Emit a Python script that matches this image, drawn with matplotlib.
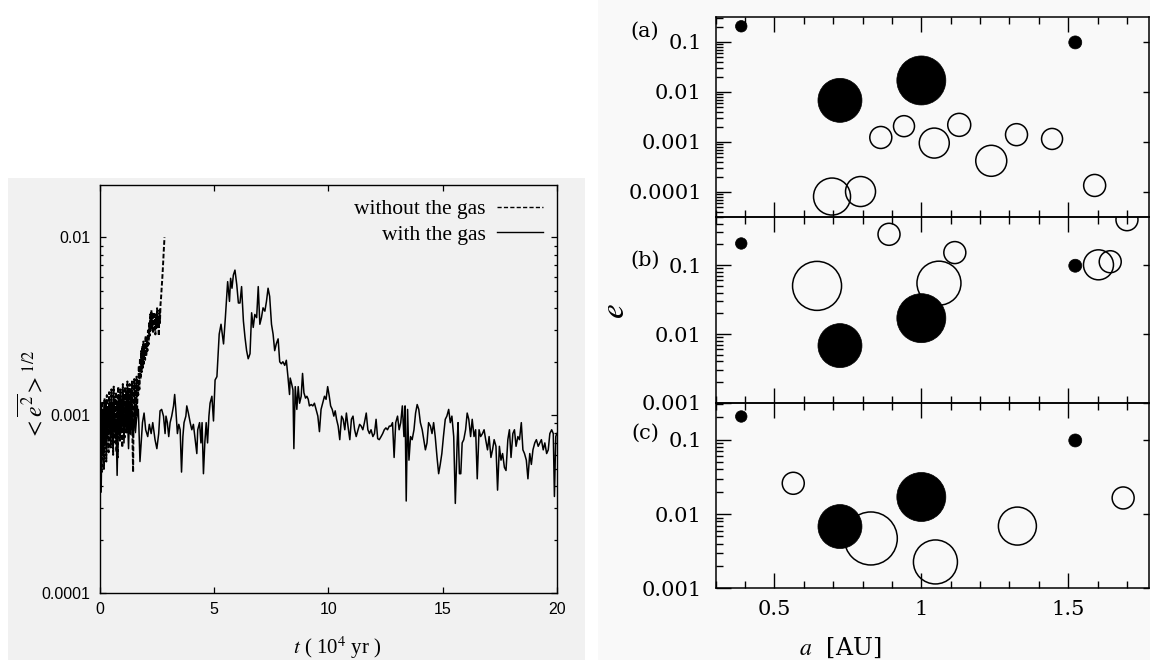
import numpy as np
import matplotlib
matplotlib.use("Agg")
import matplotlib.pyplot as plt
from matplotlib.patches import Rectangle
from matplotlib.lines import Line2D
from matplotlib.ticker import FixedLocator, FixedFormatter, LogLocator, NullFormatter, MultipleLocator
from matplotlib.font_manager import FontProperties

plt.rcParams['mathtext.fontset'] = 'stix'

# ---------------- Left panel data: rms eccentricity vs time ----------------
# without the gas (t in 1e4 yr, e in units of 1e-3)
t_nogas = [0.000, 0.025, 0.050, 0.075, 0.100, 0.125, 0.150, 0.175, 0.200, 0.225,
           0.250, 0.275, 0.300, 0.325, 0.350, 0.375, 0.400, 0.425, 0.450, 0.475,
           0.500, 0.525, 0.550, 0.575, 0.600, 0.625, 0.650, 0.675, 0.700, 0.725,
           0.750, 0.775, 0.800, 0.825, 0.850, 0.875, 0.900, 0.925, 0.950, 0.975,
           1.000, 1.025, 1.050, 1.075, 1.100, 1.125, 1.150, 1.175, 1.200, 1.225,
           1.250, 1.275, 1.300, 1.325, 1.350, 1.375, 1.400, 1.425, 1.450, 1.475,
           1.500, 1.525, 1.550, 1.575, 1.600, 1.625, 1.650, 1.675, 1.700, 1.725,
           1.750, 1.775, 1.800, 1.825, 1.850, 1.875, 1.900, 1.925, 1.950, 1.975,
           2.000, 2.025, 2.050, 2.075, 2.100, 2.125, 2.150, 2.175, 2.200, 2.225,
           2.250, 2.275, 2.300, 2.325, 2.350, 2.375, 2.400, 2.425, 2.450, 2.475,
           2.500, 2.525, 2.550, 2.575, 2.600, 2.625, 2.650, 2.675, 2.700, 2.725,
           2.750, 2.775, 2.800, 2.825]
e_nogas = [0.95, 0.55, 1.10, 0.48, 1.20, 0.60, 1.05, 0.50, 1.25, 0.70,
           1.15, 0.55, 1.30, 0.75, 1.10, 0.62, 1.35, 0.80, 1.20, 0.66,
           1.40, 0.78, 1.15, 0.60, 1.45, 0.82, 1.25, 0.70, 1.35, 0.62,
           1.20, 0.58, 1.45, 0.85, 1.30, 0.72, 1.40, 0.80, 1.20, 0.66,
           1.50, 0.90, 1.30, 0.75, 1.45, 0.85, 1.35, 0.80, 1.55, 0.92,
           1.40, 0.78, 1.50, 0.95, 1.35, 0.85, 1.55, 0.70, 0.48, 1.20,
           1.60, 0.95, 1.45, 0.90, 1.65, 1.05, 1.50, 1.30, 1.90, 1.40,
           2.10, 1.60, 2.30, 1.75, 2.45, 1.85, 2.60, 1.95, 2.50, 2.05,
           2.80, 2.15, 2.70, 2.30, 3.00, 2.50, 3.30, 2.80, 3.70, 3.00,
           3.90, 3.10, 3.60, 2.90, 3.80, 3.05, 3.50, 2.85, 3.70, 3.10,
           4.00, 3.20, 3.60, 2.80, 3.90, 3.30, 4.20, 4.60, 5.20, 5.80,
           6.60, 7.60, 8.80, 10.0]

# with the gas
t_gas = [0.00, 0.05, 0.10, 0.15, 0.20, 0.25, 0.30, 0.35, 0.40, 0.45, 0.50, 0.55,
         0.60, 0.65, 0.70, 0.75, 0.80, 0.85, 0.90, 0.95, 1.00, 1.05, 1.10, 1.15,
         1.20, 1.25, 1.30, 1.35, 1.40, 1.45, 1.50, 1.55, 1.60, 1.65,
         1.68, 1.75, 1.86, 1.93, 2.00, 2.09, 2.16, 2.24, 2.31, 2.41, 2.49, 2.57,
         2.63, 2.70, 2.78, 2.85, 2.89, 2.95, 3.01, 3.07, 3.14, 3.22, 3.27, 3.32,
         3.39, 3.45, 3.51, 3.57, 3.63, 3.68, 3.76, 3.80, 3.87, 3.95, 4.02, 4.09,
         4.17, 4.24, 4.28, 4.36, 4.42, 4.47, 4.53, 4.59, 4.65, 4.71, 4.77, 4.82,
         4.90, 4.97,
         5.04, 5.12, 5.22, 5.30, 5.41, 5.49, 5.59, 5.67, 5.72, 5.78, 5.84, 5.91,
         5.99, 6.06, 6.13, 6.20, 6.28, 6.35, 6.42, 6.49, 6.57, 6.64, 6.71, 6.78,
         6.86, 6.93, 7.00, 7.07, 7.14, 7.22, 7.29, 7.36, 7.43, 7.51, 7.58, 7.65,
         7.72, 7.80, 7.87, 7.94, 8.01, 8.09, 8.16, 8.23, 8.30, 8.33, 8.39, 8.45,
         8.49, 8.55, 8.62, 8.68, 8.74, 8.81, 8.87, 8.93, 9.00, 9.06, 9.12, 9.17,
         9.25, 9.32, 9.39, 9.46, 9.54, 9.61, 9.68, 9.75, 9.83, 9.90, 9.97, 10.04,
         10.10, 10.17, 10.24, 10.30, 10.36, 10.43, 10.50, 10.58, 10.65, 10.72,
         10.79, 10.86, 10.94, 11.01, 11.08, 11.15, 11.22, 11.30, 11.37, 11.44,
         11.51, 11.58, 11.66, 11.73, 11.80, 11.87, 11.95, 12.02, 12.09, 12.16,
         12.23, 12.31, 12.38, 12.45, 12.52, 12.59, 12.67, 12.74, 12.81, 12.88,
         12.95, 13.03, 13.10, 13.17, 13.24, 13.31, 13.36, 13.41, 13.47, 13.53,
         13.60, 13.67, 13.75, 13.82, 13.89, 13.96, 14.03, 14.11, 14.18, 14.25,
         14.32, 14.39, 14.47, 14.54, 14.61, 14.68, 14.76, 14.83,
         14.90, 14.97, 15.04, 15.12, 15.19, 15.27, 15.34, 15.41, 15.49, 15.56,
         15.64, 15.68, 15.74, 15.80, 15.86, 15.93, 16.01, 16.08, 16.15, 16.23,
         16.30, 16.38, 16.45, 16.52, 16.60, 16.67, 16.75, 16.82, 16.89, 16.97,
         17.04, 17.12, 17.19, 17.26, 17.34, 17.41, 17.49, 17.56, 17.63, 17.71,
         17.78, 17.86, 17.93, 18.00, 18.08, 18.15, 18.22, 18.30, 18.37, 18.45,
         18.52, 18.59, 18.67, 18.74, 18.82, 18.89, 18.96, 19.04, 19.11, 19.19,
         19.26, 19.33, 19.41, 19.48, 19.56, 19.63, 19.70, 19.78, 19.85, 19.90,
         19.96, 20.00]
e_gas = [1.00, 0.37, 1.05, 0.62, 1.15, 0.70, 1.10, 0.80, 1.20, 0.75, 1.05, 0.68,
         1.12, 0.80, 0.95, 0.46, 1.00, 0.78, 1.10, 0.85, 1.05, 0.70, 1.15, 0.82,
         1.00, 0.65, 1.10, 0.78, 0.98, 0.75, 1.05, 0.80, 0.95, 1.05,
         1.08, 0.55, 0.91, 1.03, 0.83, 0.76, 0.89, 0.79, 0.91, 0.73, 0.65, 0.79,
         1.06, 1.08, 0.99, 0.79, 0.99, 0.91, 0.76, 0.91, 0.99, 1.13, 1.31, 1.08,
         0.79, 0.89, 0.83, 0.48, 0.76, 0.91, 0.99, 1.13, 1.03, 0.91, 0.83, 0.89,
         0.73, 0.61, 0.83, 0.91, 0.70, 0.91, 0.47, 0.70, 0.91, 0.70, 0.99, 1.17,
         1.28, 0.93,
         1.58, 1.65, 2.86, 3.25, 2.52, 3.54, 5.64, 4.37, 5.89, 5.18, 6.14, 6.55,
         5.41, 4.28, 4.28, 5.29, 3.39, 2.74, 2.31, 2.08, 2.22, 3.77, 3.12, 3.69,
         3.54, 5.29, 3.25, 3.54, 4.02, 3.85, 4.37, 5.18, 4.66, 3.25, 2.86, 2.31,
         2.52, 2.69, 2.00, 1.95, 2.00, 1.91, 2.04, 1.65, 1.31, 1.62, 1.51, 1.39,
         0.65, 1.45, 1.08, 1.45, 1.17, 1.28, 1.72, 1.34, 1.25, 1.28, 1.23, 1.13,
         1.15, 1.13, 1.17, 1.08, 0.99, 0.81, 1.08, 1.17, 1.28, 1.23, 1.45, 1.28,
         1.13, 1.08, 0.99, 1.06, 0.95, 0.87, 0.73, 0.99, 0.95, 0.83,
         1.03, 0.87, 0.73, 0.95, 0.99, 0.83, 0.76, 0.83, 0.89, 0.87,
         0.83, 0.91, 1.03, 0.83, 0.79, 0.83, 0.76, 0.79, 0.95, 0.74,
         0.73, 0.76, 0.79, 0.83, 0.85, 0.83, 0.87, 0.87, 0.91, 0.58,
         0.91, 0.99, 0.83, 0.91, 1.13, 0.76, 1.13, 0.33, 1.08, 0.56,
         0.76, 0.73, 0.83, 1.03, 1.15, 1.08, 0.91, 0.83, 0.73, 0.64,
         0.70, 0.91, 0.87, 0.79, 0.91, 0.76, 0.58, 0.47,
         0.53, 0.61, 0.76, 0.95, 0.99, 1.08, 0.91, 0.99, 0.76, 0.32,
         0.70, 0.91, 0.47, 0.47, 0.70, 0.73, 0.83, 1.03, 0.95, 0.76,
         0.95, 0.76, 0.83, 0.44, 0.83, 0.76, 0.79, 0.83, 0.73, 0.64,
         0.76, 0.58, 0.64, 0.73, 0.67, 0.38, 0.67, 0.56, 0.61, 0.51,
         0.49, 0.73, 0.83, 0.58, 0.79, 0.83, 0.67, 0.76, 0.73, 0.91,
         0.64, 0.61, 0.56, 0.44, 0.61, 0.53, 0.64, 0.70, 0.73, 0.67,
         0.70, 0.73, 0.64, 0.70, 0.61, 0.64, 0.79, 0.83, 0.79, 0.35,
         0.76, 0.79]

left_yticks = [1e-4, 1e-3, 1e-2]
left_yticklabels = ['0.0001', '0.001', '0.01']
left_xticks = [0, 5, 10, 15, 20]

# ---------------- Right panel data: a-e diagrams ----------------
planet_a = [0.387, 0.723, 1.000, 1.524]
planet_e = [0.206, 0.0068, 0.0170, 0.098]
planet_d = [11.5, 44, 49, 13]          # symbol diameter (mass-scaled)

a_open_a = [0.862, 0.941, 1.044, 1.129, 1.238, 1.324, 1.445, 1.590, 0.696, 0.793]
e_open_a = [1.23e-3, 2.07e-3, 0.95e-3, 2.2e-3, 0.42e-3, 1.4e-3, 1.15e-3, 1.35e-4, 8.1e-5, 1.02e-4]
d_open_a = [22, 21, 30, 23, 31, 22, 21, 22, 37, 30]

a_open_b = [0.890, 1.114, 0.645, 1.060, 1.603, 1.643, 1.700]
e_open_b = [0.28, 0.152, 0.050, 0.0547, 0.101, 0.112, 0.456]
d_open_b = [22, 22, 49, 44, 30, 22, 22]

a_open_c = [0.564, 0.828, 1.048, 1.327, 1.687]
e_open_c = [0.026, 0.0047, 0.00227, 0.0069, 0.0165]
d_open_c = [22, 53, 44, 38, 22]

panel_labels = ['(a)', '(b)', '(c)']
right_ylims = [(3.2e-5, 0.319), (1e-3, 0.504), (1e-3, 0.313)]
right_yticks = [[1e-4, 1e-3, 1e-2, 1e-1], [1e-3, 1e-2, 1e-1], [1e-3, 1e-2, 1e-1]]
right_yticklabels = [['0.0001', '0.001', '0.01', '0.1'], ['0.001', '0.01', '0.1'], ['0.001', '0.01', '0.1']]
right_xticks = [0.5, 1.0, 1.5]
right_xticklabels = ['0.5', '1', '1.5']

# ---------------- Figure ----------------
W, H = 1150, 660
fig = plt.figure(figsize=(W / 100, H / 100), dpi=100)
fig.patch.set_facecolor('white')

def fx(px):
    return px / W

def fy(py):
    return 1 - py / H

# scanned-page backgrounds
fig.add_artist(Rectangle((fx(8), 0), fx(585) - fx(8), fy(178), transform=fig.transFigure,
                         facecolor='#f1f1f1', edgecolor='none', zorder=-10))
fig.add_artist(Rectangle((fx(598), 0), 1 - fx(598), 1, transform=fig.transFigure,
                         facecolor='#f9f9f9', edgecolor='none', zorder=-10))

# ---- left axes ----
axL = fig.add_axes([fx(100), fy(593.3), fx(556.7) - fx(100), fy(185) - fy(593.3)])
axL.set_facecolor('none')
axL.set_yscale('log')
axL.plot(t_nogas, np.array(e_nogas) * 1e-3, color='black', lw=1.4, ls=(0, (2.4, 1.1)))
axL.plot(t_gas, np.array(e_gas) * 1e-3, color='black', lw=1.1, ls='-')
axL.set_xlim(0, 20)
axL.set_ylim(1e-4, 0.0197)
axL.yaxis.set_major_locator(FixedLocator(left_yticks))
axL.yaxis.set_major_formatter(FixedFormatter(left_yticklabels))
axL.yaxis.set_minor_locator(LogLocator(base=10, subs=range(2, 10), numticks=20))
axL.yaxis.set_minor_formatter(NullFormatter())
axL.xaxis.set_major_locator(FixedLocator(left_xticks))
axL.xaxis.set_major_formatter(FixedFormatter([str(v) for v in left_xticks]))
axL.tick_params(which='both', direction='in', top=True, right=True, width=0.9)
axL.tick_params(which='major', length=4.3)
axL.tick_params(which='minor', length=2.4)
axL.tick_params(axis='y', which='major', pad=7)
axL.tick_params(axis='x', which='major', pad=6)
for lab in axL.get_xticklabels() + axL.get_yticklabels():
    lab.set_fontfamily('Liberation Sans')
    lab.set_fontsize(11.5)
for sp in axL.spines.values():
    sp.set_linewidth(1.0)

hand = [Line2D([], [], color='black', lw=1.0, ls=(0, (3, 1.6))),
        Line2D([], [], color='black', lw=1.0, ls='-')]
axL.legend(hand, ['without the gas', 'with the gas'], loc='upper right', markerfirst=False,
           frameon=False, prop=FontProperties(family='Liberation Serif', size=15.5),
           handlelength=2.1, handletextpad=0.55, labelspacing=0.25, borderaxespad=0.35,
           borderpad=0.3)

fig.text(fx(32), fy(395), r'$<\overline{e^2}>^{1/2}$', rotation=90, ha='center', va='center',
         fontsize=17)
fig.text(fx(337), fy(648), r'$t$ ( 10$^4$ yr )', ha='center', va='center', fontsize=15,
         family='Liberation Serif')

# ---- right axes ----
edges = [16.8, 216.7, 403.0, 588.4]
opens = [(a_open_a, e_open_a, d_open_a), (a_open_b, e_open_b, d_open_b), (a_open_c, e_open_c, d_open_c)]
label_y = [31, 260, 433]
for i in range(3):
    ax = fig.add_axes([fx(715.7), fy(edges[i + 1]), fx(1149) - fx(715.7), fy(edges[i]) - fy(edges[i + 1])])
    ax.set_facecolor('none')
    ax.set_yscale('log')
    oa, oe, od = opens[i]
    ax.scatter(oa, oe, s=(np.array(od) * 0.72) ** 2, facecolors='none', edgecolors='black',
               linewidths=1.1, zorder=2)
    ax.scatter(planet_a, planet_e, s=(np.array(planet_d) * 0.72) ** 2, facecolors='black',
               edgecolors='black', linewidths=0.5, zorder=3)
    ax.set_xlim(0.3, 1.775)
    ax.set_ylim(*right_ylims[i])
    ax.xaxis.set_major_locator(FixedLocator(right_xticks))
    ax.xaxis.set_minor_locator(MultipleLocator(0.1))
    if i == 2:
        ax.xaxis.set_major_formatter(FixedFormatter(right_xticklabels))
    else:
        ax.xaxis.set_major_formatter(NullFormatter())
    ax.yaxis.set_major_locator(FixedLocator(right_yticks[i]))
    ax.yaxis.set_major_formatter(FixedFormatter(right_yticklabels[i]))
    ax.yaxis.set_minor_locator(LogLocator(base=10, subs=range(2, 10), numticks=20))
    ax.yaxis.set_minor_formatter(NullFormatter())
    ax.tick_params(which='both', direction='in', top=True, bottom=True, left=True, right=True, width=1.0)
    ax.tick_params(which='major', length=10.5)
    ax.tick_params(which='minor', length=5.2)
    ax.tick_params(axis='y', which='minor', right=False)
    ax.tick_params(axis='y', which='major', pad=10)
    ax.tick_params(axis='x', which='major', pad=8)
    for tk in ax.yaxis.get_major_ticks():
        tk.tick2line.set_markersize(4.5)
    for lab in ax.get_xticklabels() + ax.get_yticklabels():
        lab.set_fontfamily('DejaVu Serif')
        lab.set_fontsize(15)
    for sp in ax.spines.values():
        sp.set_linewidth(1.1)
    fig.text(fx(645), fy(label_y[i]), panel_labels[i], ha='center', va='center', fontsize=15,
             family='DejaVu Serif')

fig.text(fx(614), fy(311), r'$e$', rotation=90, ha='center', va='center', fontsize=24)
fig.text(fx(840), fy(648), r'$a$  [AU]', ha='center', va='center', fontsize=17, family='DejaVu Serif')

fig.savefig('out.png', dpi=100, facecolor=fig.get_facecolor())
